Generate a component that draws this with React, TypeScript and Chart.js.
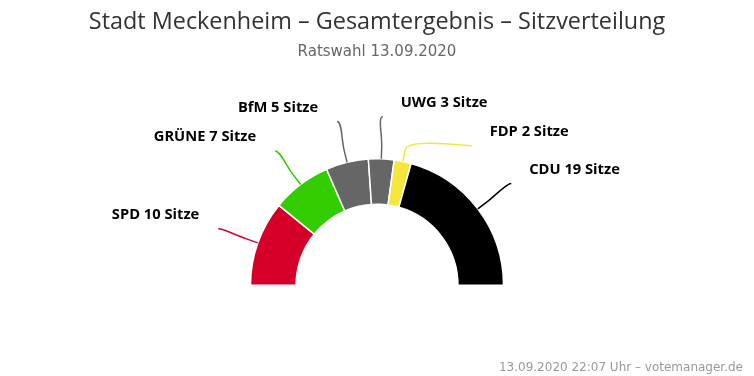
import React, { useEffect, useRef } from "react";
import { Chart, registerables } from "chart.js";

Chart.register(...registerables);

const parties = ["SPD", "GRÜNE", "BfM", "UWG", "FDP", "CDU"];
const seats = [10, 7, 5, 3, 2, 19];
const partyColors = ["#d5002a", "#33cc00", "#666666", "#666666", "#f5e63b", "#000000"];
const titleText = "Stadt Meckenheim – Gesamtergebnis – Sitzverteilung";
const subtitleText = "Ratswahl 13.09.2020";
const creditText = "13.09.2020 22:07 Uhr – votemanager.de";
const seatWord = "Sitze";

const FONT = "'DejaVu Sans', sans-serif";
const FONT2 = "'Open Sans', sans-serif";

const textPlugin = {
  id: "seatTexts",
  afterDraw(chart: any) {
    const ctx = chart.ctx as CanvasRenderingContext2D;
    const W = chart.width;
    ctx.save();
    // title
    ctx.textAlign = "center";
    ctx.textBaseline = "middle";
    ctx.fillStyle = "#333333";
    ctx.font = `23.4px ${FONT2}`;
    ctx.fillText(titleText, W / 2, 22);
    ctx.fillStyle = "#666666";
    ctx.font = `15px ${FONT}`;
    ctx.fillText(subtitleText, W / 2, 52);
    // credits
    ctx.textAlign = "right";
    ctx.fillStyle = "#999999";
    ctx.font = `12px ${FONT}`;
    ctx.fillText(creditText, W - 11, 368);

    // data labels with connectors
    const meta = chart.getDatasetMeta(0);
    const DIST = 42;
    const BREAK = 12;
    const GAP = 29;
    const items = meta.data.map((arc: any, i: number) => {
      const p = arc.getProps(["x", "y", "startAngle", "endAngle", "outerRadius"], true);
      const mid = (p.startAngle + p.endAngle) / 2;
      const cos = Math.cos(mid);
      const sin = Math.sin(mid);
      const R = p.outerRadius;
      const rl = R + DIST;
      return {
        i, cx: p.x, cy: p.y, R, rl, cos, sin,
        right: cos >= 0,
        ay: p.y + sin * rl,
        ax: 0,
      };
    });
    for (const side of [false, true]) {
      const list = items.filter((it: any) => it.right === side).sort((a: any, b: any) => a.ay - b.ay);
      for (let k = 1; k < list.length; k++) {
        if (list[k].ay < list[k - 1].ay + GAP) list[k].ay = list[k - 1].ay + GAP;
      }
    }
    for (const it of items) {
      const dy = it.ay - it.cy;
      const dx = Math.sqrt(Math.max(it.rl * it.rl - dy * dy, 0));
      it.ax = it.cx + (it.right ? dx : -dx);
    }
    for (const it of items) {
      const color = partyColors[it.i];
      const tx = it.cx + it.cos * it.R;
      const ty = it.cy + it.sin * it.R;
      const bx = it.cx + it.cos * (it.R + BREAK);
      const by = it.cy + it.sin * (it.R + BREAK);
      ctx.beginPath();
      ctx.moveTo(it.ax, it.ay);
      ctx.bezierCurveTo(it.ax + (it.right ? -5 : 5), it.ay, 2 * bx - tx, 2 * by - ty, bx, by);
      ctx.lineTo(tx, ty);
      ctx.strokeStyle = color;
      ctx.lineWidth = 1.5;
      ctx.stroke();

      ctx.fillStyle = "#000000";
      ctx.font = `bold 14.7px ${FONT2}`;
      ctx.textBaseline = "middle";
      ctx.textAlign = it.right ? "left" : "right";
      const label = `${parties[it.i]} ${seats[it.i]} ${seatWord}`;
      ctx.fillText(label, it.ax + (it.right ? 18 : -19), it.ay - 14);
    }
    ctx.restore();
  },
};

export default function App() {
  const ref = useRef<HTMLCanvasElement | null>(null);
  useEffect(() => {
    if (!ref.current) return;
    const chart = new Chart(ref.current, {
      type: "doughnut",
      data: {
        labels: parties,
        datasets: [
          {
            data: seats,
            backgroundColor: partyColors,
            borderColor: "#ffffff",
            borderWidth: 1.5,
            hoverOffset: 0,
          },
        ],
      },
      options: {
        responsive: false,
        animation: false,
        rotation: -90,
        circumference: 180,
        cutout: "64%",
        layout: { padding: { top: 158, bottom: 90, left: 100, right: 100 } },
        plugins: {
          legend: { display: false },
          tooltip: { enabled: false },
          title: { display: false },
        },
        events: [],
      },
      plugins: [textPlugin],
    });
    return () => chart.destroy();
  }, []);
  return (
    <div style={{ position: "absolute", left: 0, top: 0, width: 754, height: 376, background: "#fff" }}>
      <canvas ref={ref} width={754} height={376} style={{ display: "block" }} />
    </div>
  );
}
